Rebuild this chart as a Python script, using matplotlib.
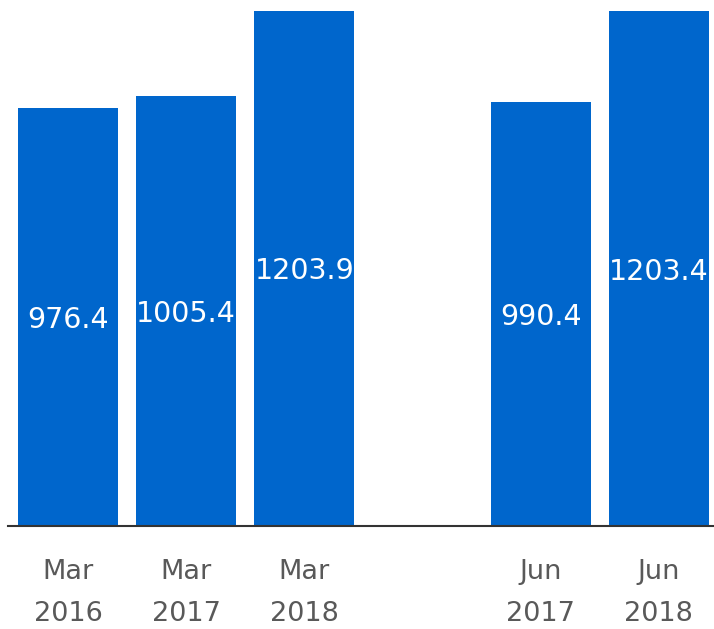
import matplotlib
matplotlib.use("Agg")
import matplotlib.pyplot as plt

categories = ["Mar\n2016", "Mar\n2017", "Mar\n2018", "", "Jun\n2017", "Jun\n2018"]
values = [976.4, 1005.4, 1203.9, None, 990.4, 1203.4]
labels = ["976.4", "1005.4", "1203.9", "", "990.4", "1203.4"]

fig = plt.figure(figsize=(7.14, 6.29), dpi=100)
ax = fig.add_axes([8/714, 1-526/629, 1-8/714, 526/629])

bar_color = "#0066CC"
xs = list(range(len(categories)))
for x, v, lab in zip(xs, values, labels):
    if v is None:
        continue
    ax.bar(x, v, width=0.847, color=bar_color, edgecolor="none")
    ax.text(x, v/2, lab, ha="center", va="center_baseline", color="white", fontsize=20.5)

ax.set_xlim(-0.508, 5.466)
ax.set_ylim(0, 1229.5)
ax.set_xticks(xs)
ax.set_xticklabels(categories, fontsize=19.5, color="#595959", linespacing=1.78)
ax.tick_params(axis="x", length=0, pad=24)
ax.set_yticks([])
for s in ["top", "right", "left"]:
    ax.spines[s].set_visible(False)
ax.spines["bottom"].set_color("#333333")
ax.spines["bottom"].set_linewidth(1.5)

fig.savefig("out.png", dpi=100)
